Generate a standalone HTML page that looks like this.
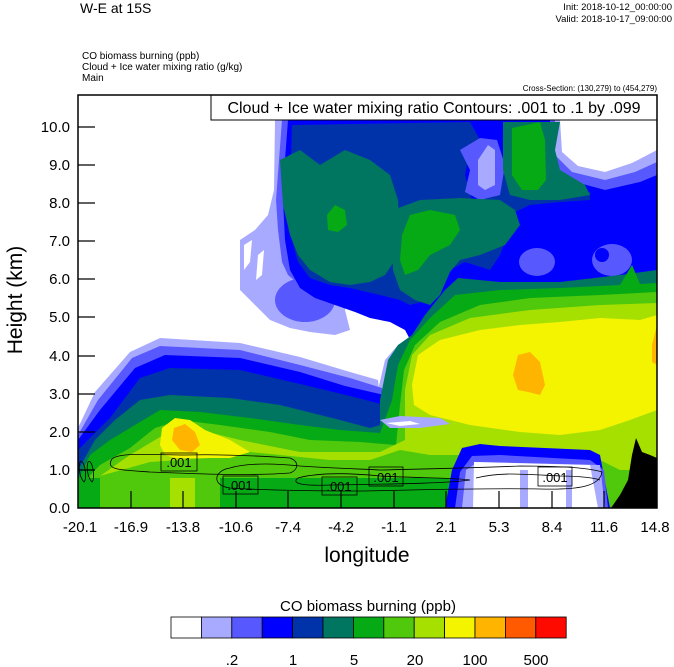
<!DOCTYPE html>
<html><head><meta charset="utf-8"><style>
body{margin:0;background:#fff;}
svg{display:block;font-family:"Liberation Sans",sans-serif;}
</style></head><body>
<svg width="674" height="667" viewBox="0 0 674 667" xmlns="http://www.w3.org/2000/svg">
<rect width="674" height="667" fill="#fff"/>
<text x="80" y="13" font-size="14">W-E at 15S</text>
<text x="672" y="10" font-size="9.5" text-anchor="end">Init: 2018-10-12_00:00:00</text>
<text x="672" y="22" font-size="9.5" text-anchor="end">Valid: 2018-10-17_09:00:00</text>
<text x="82" y="59" font-size="10">CO biomass burning   (ppb)</text>
<text x="82" y="70" font-size="10">Cloud + Ice water mixing ratio   (g/kg)</text>
<text x="82" y="81" font-size="10">Main</text>
<text x="657" y="91" font-size="8" text-anchor="end">Cross-Section: (130,279) to (454,279)</text>
<defs><clipPath id="pc"><rect x="78" y="95" width="579" height="413"/></clipPath></defs>
<g clip-path="url(#pc)">
<!-- upper region -->
<path fill="#a8aaff" d="M275,120 L560,120 562,152 578,166 605,172 632,163 657,150 657,508 380,508 378,390 385,360 398,345 413,337 410,318 400,305 385,303 370,300 350,295 345,310 350,330 335,335 310,332 290,328 270,320 250,300 240,290 240,240 255,230 268,215 274,190Z"/>
<path fill="#fff" d="M244,245 L252,240 250,262 244,270Z M258,255 L264,250 262,275 256,280Z"/>
<path fill="#5858ff" d="M282,120 L555,120 555,155 572,172 605,180 635,172 657,162 657,508 385,508 383,395 390,362 402,350 413,342 410,330 400,315 380,310 360,305 345,298 320,292 300,285 288,275 282,262 278,230 276,200 279,160Z"/>
<ellipse cx="305" cy="300" rx="30" ry="22" fill="#5858ff"/>
<path fill="#fff" d="M300,275 L310,278 320,283 305,286Z"/>
<path fill="#0000ff" d="M288,120 L550,120 550,160 568,180 605,190 640,182 657,175 657,508 388,508 386,400 393,365 405,352 413,345 405,330 390,322 370,318 355,312 335,305 315,298 300,288 290,270 285,240 283,200 285,160Z"/>
<ellipse cx="537" cy="262" rx="18" ry="14" fill="#5858ff"/>
<ellipse cx="612" cy="260" rx="20" ry="16" fill="#5858ff"/>
<ellipse cx="602" cy="255" rx="7" ry="7" fill="#0000ff"/>
<path fill="#0033aa" d="M292,125 L470,122 480,140 470,150 465,175 472,200 490,195 505,160 510,122 550,122 548,165 560,185 590,192 590,200 560,202 530,205 515,212 510,230 500,255 490,270 465,262 450,270 440,290 430,300 410,305 400,300 380,295 350,288 330,285 310,278 298,262 292,240 290,200 291,160Z"/>
<!-- light/medium streak -->
<path fill="#5858ff" d="M460,150 L480,138 497,140 505,165 500,195 480,200 465,192 470,170Z"/>
<path fill="#a8aaff" d="M478,160 L488,145 495,150 495,185 485,190 478,185Z"/>
<!-- teal blobs -->
<path fill="#007560" d="M280,160 L300,150 320,165 345,150 370,160 390,175 398,200 400,230 395,260 385,275 370,282 350,285 330,282 310,270 298,255 290,235 283,205Z"/>
<path fill="#06aa14" d="M327,215 L335,205 345,210 347,225 338,232 328,230Z"/>
<path fill="#007560" d="M393,210 L420,200 460,198 500,200 515,210 520,225 505,245 480,255 460,260 450,272 440,295 430,305 415,300 400,290 393,270 392,240Z"/>
<path fill="#06aa14" d="M402,235 L410,215 430,210 455,215 460,230 450,245 430,255 418,270 405,275 400,260Z"/>
<path fill="#007560" d="M503,122 L560,122 555,150 560,170 585,185 590,195 560,200 530,200 510,195 503,170Z"/>
<path fill="#06aa14" d="M512,128 L540,122 545,140 546,180 538,190 522,190 512,175Z"/>
<!-- lower-left band -->
<path fill="#a8aaff" d="M78,428 L95,392 130,352 160,338 240,343 300,357 350,372 378,380 382,420 382,508 78,508Z"/>
<path fill="#5858ff" d="M78,435 L98,400 132,358 160,346 240,350 300,365 350,378 382,388 385,508 78,508Z"/>
<path fill="#0000ff" d="M78,440 L100,410 135,368 165,355 240,358 300,372 345,386 384,395 388,508 78,508Z"/>
<path fill="#0033aa" d="M78,450 L110,418 140,378 170,368 240,370 300,384 350,396 385,405 440,420 470,440 390,508 78,508Z"/>
<!-- teal plume + band -->
<path fill="#007560" d="M657,270 L657,508 78,508 78,470 95,440 115,420 140,400 170,395 230,398 280,405 340,420 370,428 380,425 380,400 388,360 398,345 412,335 425,315 445,290 458,278 500,282 560,282 620,275Z"/>
<path fill="#06aa14" d="M657,283 L657,508 78,508 78,480 90,455 110,440 135,425 160,410 200,412 250,418 300,425 340,430 380,433 392,400 398,365 410,340 430,318 455,295 500,290 560,288 620,285 632,265 640,284Z"/>
<path fill="#50c80c" d="M657,292 L657,508 78,508 78,488 100,465 130,448 155,428 180,420 220,425 270,432 310,440 360,442 396,445 400,405 404,370 415,345 440,322 480,305 530,298 600,295Z"/>
<path fill="#a6e000" d="M657,303 L657,470 620,470 600,460 560,458 520,455 470,452 440,448 430,440 420,432 460,430 470,435 470,455 430,455 400,450 370,460 330,460 290,456 250,452 210,458 150,462 100,476 130,455 155,440 175,428 200,430 240,440 270,446 300,452 340,452 380,452 405,440 405,390 412,355 430,335 470,318 530,310 600,305Z"/>
<path fill="#f4f400" d="M412,385 L418,355 440,340 480,330 520,325 560,322 600,318 640,320 657,315 657,410 630,420 600,430 560,435 520,432 470,425 430,415 414,405Z"/>
<path fill="#f4f400" d="M160,445 L162,428 175,418 190,420 205,430 230,440 250,452 230,458 200,458 175,458 165,455Z"/>
<path fill="#ffb400" d="M513,375 L518,355 530,352 540,362 545,385 540,395 528,392 518,390Z"/>
<path fill="#ffb400" d="M652,345 L657,325 657,365 652,362Z"/>
<path fill="#ffb400" d="M172,440 L174,428 185,424 195,432 200,445 192,452 180,450Z"/>
<!-- bottom strip -->
<rect x="78" y="478" width="22" height="30" fill="#06aa14"/>
<rect x="100" y="478" width="70" height="30" fill="#50c80c"/>
<rect x="170" y="478" width="25" height="30" fill="#a6e000"/>
<rect x="195" y="478" width="25" height="30" fill="#50c80c"/>
<rect x="220" y="478" width="230" height="30" fill="#06aa14"/>
<rect x="450" y="478" width="22" height="30" fill="#007560"/>
<path fill="#0000ff" d="M445,508 L452,470 462,448 480,444 500,446 590,450 600,455 610,508Z"/>
<path fill="#5858ff" d="M455,508 L460,472 472,456 500,455 590,460 604,470 608,508Z"/>
<path fill="#a8aaff" d="M462,508 L466,470 478,462 600,465 605,508Z"/>
<path fill="#fff" d="M473,508 L474,462 590,465 598,508Z"/>
<rect x="520" y="470" width="8" height="38" fill="#a8aaff"/>
<rect x="566" y="470" width="6" height="38" fill="#a8aaff"/>
<path fill="#a8aaff" d="M380,420 L400,416 440,418 450,424 420,428 390,428Z"/>
<path fill="#fff" d="M386,423 L410,421 420,424 400,426Z"/>
<path fill="#000" d="M611,508 L620,495 628,480 632,455 636,438 642,452 650,455 657,458 657,508Z"/>
<!-- contours -->
<g fill="none" stroke="#000" stroke-width="0.8">
<path d="M112,459 C120,452 150,455 185,455 C220,454 260,456 290,458 C300,462 298,470 290,473 C250,476 200,474 150,472 C120,470 105,470 112,459Z"/>
<path d="M230,468 C250,462 280,464 300,466 C330,468 360,469 380,470 C420,469 470,468 520,466 C560,466 590,468 602,472 C600,486 580,490 540,489 C480,488 420,490 360,491 C300,491 260,490 230,488 C210,485 215,470 230,468Z"/>
<path d="M298,478 C320,472 350,473 380,476 C420,478 460,478 470,480 C440,484 380,484 330,485 C305,486 290,484 298,478Z"/>
<path d="M80,462 C84,458 88,478 84,482 C80,478 78,468 80,462Z M88,462 C92,458 96,478 92,482 C88,478 86,468 88,462Z"/>
<path d="M476,478 C500,472 520,474 560,476 C580,476 595,478 600,480"/>
</g>
<g font-size="13" text-anchor="middle">
<rect x="161" y="453" width="36" height="18" fill="none" stroke="#000" stroke-width="0.8"/><text x="179" y="467">.001</text>
<rect x="223" y="476" width="35" height="18" fill="none" stroke="#000" stroke-width="0.8"/><text x="240" y="490">.001</text>
<rect x="322" y="477" width="35" height="18" fill="none" stroke="#000" stroke-width="0.8"/><text x="339" y="491">.001</text>
<rect x="369" y="467" width="34" height="19" fill="none" stroke="#000" stroke-width="0.8"/><text x="386" y="482">.001</text>
<rect x="538" y="467" width="34" height="19" fill="none" stroke="#000" stroke-width="0.8"/><text x="555" y="482">.001</text>
</g>
</g>
<rect x="211" y="95" width="446" height="25" fill="#fff" stroke="#000" stroke-width="1"/>
<text x="434" y="113" font-size="16" text-anchor="middle">Cloud + Ice water mixing ratio Contours: .001 to .1 by .099</text>
<rect x="78" y="95" width="579" height="413" fill="none" stroke="#000" stroke-width="1.5"/>
<g stroke="#000" stroke-width="1.2">
<line x1="78" y1="127" x2="95" y2="127"/><line x1="78" y1="165" x2="95" y2="165"/><line x1="78" y1="203" x2="95" y2="203"/><line x1="78" y1="241" x2="95" y2="241"/><line x1="78" y1="279" x2="95" y2="279"/><line x1="78" y1="317" x2="95" y2="317"/><line x1="78" y1="356" x2="95" y2="356"/><line x1="78" y1="394" x2="95" y2="394"/><line x1="78" y1="432" x2="95" y2="432"/><line x1="78" y1="470" x2="95" y2="470"/>
<line x1="131" y1="508" x2="131" y2="491"/><line x1="183" y1="508" x2="183" y2="491"/><line x1="236" y1="508" x2="236" y2="491"/><line x1="288" y1="508" x2="288" y2="491"/><line x1="341" y1="508" x2="341" y2="491"/><line x1="394" y1="508" x2="394" y2="491"/><line x1="446" y1="508" x2="446" y2="491"/><line x1="499" y1="508" x2="499" y2="491"/><line x1="552" y1="508" x2="552" y2="491"/><line x1="604" y1="508" x2="604" y2="491"/>
</g>
<g font-size="15" text-anchor="end">
<text x="70" y="132">10.0</text><text x="70" y="170">9.0</text><text x="70" y="208">8.0</text><text x="70" y="246">7.0</text><text x="70" y="284">6.0</text><text x="70" y="322">5.0</text><text x="70" y="361">4.0</text><text x="70" y="399">3.0</text><text x="70" y="437">2.0</text><text x="70" y="475">1.0</text><text x="70" y="513">0.0</text>
</g>
<g font-size="15" text-anchor="middle">
<text x="80" y="532">-20.1</text><text x="131" y="532">-16.9</text><text x="183" y="532">-13.8</text><text x="236" y="532">-10.6</text><text x="288" y="532">-7.4</text><text x="341" y="532">-4.2</text><text x="394" y="532">-1.1</text><text x="446" y="532">2.1</text><text x="499" y="532">5.3</text><text x="552" y="532">8.4</text><text x="604" y="532">11.6</text><text x="655" y="532">14.8</text>
</g>
<text x="367" y="562" font-size="21" text-anchor="middle">longitude</text>
<text transform="translate(22,300) rotate(-90)" font-size="21" text-anchor="middle">Height (km)</text>
<text x="368" y="611" font-size="15" text-anchor="middle">CO biomass burning  (ppb)</text>
<g stroke="#000" stroke-width="0.8">
<rect x="171" y="617" width="30.4" height="21" fill="#fff"/>
<rect x="201.4" y="617" width="30.4" height="21" fill="#a8aaff"/>
<rect x="231.8" y="617" width="30.4" height="21" fill="#5858ff"/>
<rect x="262.2" y="617" width="30.4" height="21" fill="#0000ff"/>
<rect x="292.6" y="617" width="30.4" height="21" fill="#0033aa"/>
<rect x="323" y="617" width="30.4" height="21" fill="#007560"/>
<rect x="353.4" y="617" width="30.4" height="21" fill="#06aa14"/>
<rect x="383.8" y="617" width="30.4" height="21" fill="#50c80c"/>
<rect x="414.2" y="617" width="30.4" height="21" fill="#a6e000"/>
<rect x="444.6" y="617" width="30.4" height="21" fill="#f4f400"/>
<rect x="475" y="617" width="30.4" height="21" fill="#ffb400"/>
<rect x="505.4" y="617" width="30.4" height="21" fill="#ff5a00"/>
<rect x="535.8" y="617" width="30.4" height="21" fill="#ff0a00"/>
</g>
<g font-size="15" text-anchor="middle">
<text x="232" y="665">.2</text><text x="293" y="665">1</text><text x="354" y="665">5</text><text x="415" y="665">20</text><text x="475" y="665">100</text><text x="536" y="665">500</text>
</g>
</svg>
</body></html>
